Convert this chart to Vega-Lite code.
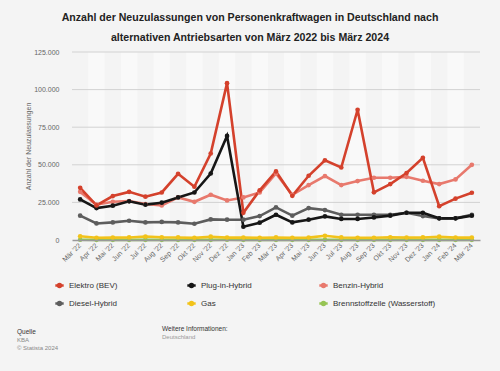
{
  "$schema": "https://vega.github.io/schema/vega-lite/v6.json",
  "width": 408,
  "height": 188,
  "autosize": {"type": "none"},
  "padding": {"left": 72, "top": 52, "right": 20, "bottom": 131},
  "background": "#f4f4f4",
  "config": {
    "font": "Liberation Sans",
    "view": {"stroke": null},
    "locale": {"number": {"decimal": ",", "thousands": ".", "grouping": [3], "currency": ["", " €"]}},
    "axisY": {"labelOverlap": false}
  },
  "title": {
    "text": ["Anzahl der Neuzulassungen von Personenkraftwagen in Deutschland nach", "alternativen Antriebsarten von März 2022 bis März 2024"],
    "fontSize": 10.6,
    "fontWeight": "bold",
    "color": "#222222",
    "lineHeight": 20,
    "anchor": "middle",
    "dx": -26,
    "offset": 4
  },
  "datasets": {
    "werte": [
      {"Monat": "Mär '22", "Elektro (BEV)": 34700, "Plug-in-Hybrid": 27000, "Benzin-Hybrid": 32000, "Diesel-Hybrid": 16200, "Gas": 2500, "Brennstoffzelle (Wasserstoff)": 150},
      {"Monat": "Apr '22", "Elektro (BEV)": 23000, "Plug-in-Hybrid": 21200, "Benzin-Hybrid": 23500, "Diesel-Hybrid": 11000, "Gas": 1500, "Brennstoffzelle (Wasserstoff)": 100},
      {"Monat": "Mai '22", "Elektro (BEV)": 29200, "Plug-in-Hybrid": 22800, "Benzin-Hybrid": 25400, "Diesel-Hybrid": 11700, "Gas": 1600, "Brennstoffzelle (Wasserstoff)": 100},
      {"Monat": "Jun '22", "Elektro (BEV)": 32000, "Plug-in-Hybrid": 25700, "Benzin-Hybrid": 25900, "Diesel-Hybrid": 12800, "Gas": 1700, "Brennstoffzelle (Wasserstoff)": 100},
      {"Monat": "Jul '22", "Elektro (BEV)": 28800, "Plug-in-Hybrid": 23500, "Benzin-Hybrid": 23900, "Diesel-Hybrid": 11700, "Gas": 2300, "Brennstoffzelle (Wasserstoff)": 100},
      {"Monat": "Aug '22", "Elektro (BEV)": 31600, "Plug-in-Hybrid": 24800, "Benzin-Hybrid": 23000, "Diesel-Hybrid": 12000, "Gas": 1800, "Brennstoffzelle (Wasserstoff)": 100},
      {"Monat": "Sep '22", "Elektro (BEV)": 44000, "Plug-in-Hybrid": 28300, "Benzin-Hybrid": 28300, "Diesel-Hybrid": 11700, "Gas": 1700, "Brennstoffzelle (Wasserstoff)": 100},
      {"Monat": "Okt '22", "Elektro (BEV)": 35400, "Plug-in-Hybrid": 31600, "Benzin-Hybrid": 25400, "Diesel-Hybrid": 10800, "Gas": 1400, "Brennstoffzelle (Wasserstoff)": 100},
      {"Monat": "Nov '22", "Elektro (BEV)": 57500, "Plug-in-Hybrid": 44200, "Benzin-Hybrid": 30100, "Diesel-Hybrid": 13700, "Gas": 2200, "Brennstoffzelle (Wasserstoff)": 100},
      {"Monat": "Dez '22", "Elektro (BEV)": 104300, "Plug-in-Hybrid": 69200, "Benzin-Hybrid": 26300, "Diesel-Hybrid": 13500, "Gas": 1600, "Brennstoffzelle (Wasserstoff)": 150},
      {"Monat": "Jan '23", "Elektro (BEV)": 18100, "Plug-in-Hybrid": 8800, "Benzin-Hybrid": 28300, "Diesel-Hybrid": 13500, "Gas": 1600, "Brennstoffzelle (Wasserstoff)": 100},
      {"Monat": "Feb '23", "Elektro (BEV)": 33000, "Plug-in-Hybrid": 11500, "Benzin-Hybrid": 31600, "Diesel-Hybrid": 15900, "Gas": 1500, "Brennstoffzelle (Wasserstoff)": 100},
      {"Monat": "Mär '23", "Elektro (BEV)": 45600, "Plug-in-Hybrid": 16800, "Benzin-Hybrid": 44200, "Diesel-Hybrid": 21700, "Gas": 1700, "Brennstoffzelle (Wasserstoff)": 100},
      {"Monat": "Apr '23", "Elektro (BEV)": 29400, "Plug-in-Hybrid": 11700, "Benzin-Hybrid": 30000, "Diesel-Hybrid": 16200, "Gas": 1500, "Brennstoffzelle (Wasserstoff)": 100},
      {"Monat": "Mai '23", "Elektro (BEV)": 42700, "Plug-in-Hybrid": 13500, "Benzin-Hybrid": 36500, "Diesel-Hybrid": 21200, "Gas": 1600, "Brennstoffzelle (Wasserstoff)": 100},
      {"Monat": "Jun '23", "Elektro (BEV)": 53000, "Plug-in-Hybrid": 15700, "Benzin-Hybrid": 42500, "Diesel-Hybrid": 19900, "Gas": 2800, "Brennstoffzelle (Wasserstoff)": 100},
      {"Monat": "Jul '23", "Elektro (BEV)": 48200, "Plug-in-Hybrid": 14000, "Benzin-Hybrid": 36500, "Diesel-Hybrid": 16800, "Gas": 1700, "Brennstoffzelle (Wasserstoff)": 100},
      {"Monat": "Aug '23", "Elektro (BEV)": 86600, "Plug-in-Hybrid": 14000, "Benzin-Hybrid": 39200, "Diesel-Hybrid": 16800, "Gas": 1500, "Brennstoffzelle (Wasserstoff)": 100},
      {"Monat": "Sep '23", "Elektro (BEV)": 31700, "Plug-in-Hybrid": 15000, "Benzin-Hybrid": 41400, "Diesel-Hybrid": 16800, "Gas": 1500, "Brennstoffzelle (Wasserstoff)": 100},
      {"Monat": "Okt '23", "Elektro (BEV)": 37200, "Plug-in-Hybrid": 16200, "Benzin-Hybrid": 41400, "Diesel-Hybrid": 16800, "Gas": 1800, "Brennstoffzelle (Wasserstoff)": 100},
      {"Monat": "Nov '23", "Elektro (BEV)": 44500, "Plug-in-Hybrid": 18100, "Benzin-Hybrid": 42000, "Diesel-Hybrid": 18100, "Gas": 1600, "Brennstoffzelle (Wasserstoff)": 100},
      {"Monat": "Dez '23", "Elektro (BEV)": 54700, "Plug-in-Hybrid": 18100, "Benzin-Hybrid": 39400, "Diesel-Hybrid": 15900, "Gas": 1700, "Brennstoffzelle (Wasserstoff)": 100},
      {"Monat": "Jan '24", "Elektro (BEV)": 22500, "Plug-in-Hybrid": 14400, "Benzin-Hybrid": 37200, "Diesel-Hybrid": 14400, "Gas": 2200, "Brennstoffzelle (Wasserstoff)": 100},
      {"Monat": "Feb '24", "Elektro (BEV)": 27500, "Plug-in-Hybrid": 14400, "Benzin-Hybrid": 40300, "Diesel-Hybrid": 14400, "Gas": 1600, "Brennstoffzelle (Wasserstoff)": 100},
      {"Monat": "Mär '24", "Elektro (BEV)": 31400, "Plug-in-Hybrid": 16200, "Benzin-Hybrid": 50000, "Diesel-Hybrid": 16800, "Gas": 1600, "Brennstoffzelle (Wasserstoff)": 100}
    ],
    "streifen": [
      {"Monat": "Apr '22"}, {"Monat": "Jun '22"}, {"Monat": "Aug '22"}, {"Monat": "Okt '22"}, {"Monat": "Dez '22"}, {"Monat": "Feb '23"},
      {"Monat": "Apr '23"}, {"Monat": "Jun '23"}, {"Monat": "Aug '23"}, {"Monat": "Okt '23"}, {"Monat": "Dez '23"}, {"Monat": "Feb '24"}
    ],
    "gitter": [{"Anzahl": 25000}, {"Anzahl": 50000}, {"Anzahl": 75000}, {"Anzahl": 100000}, {"Anzahl": 125000}]
  },
  "layer": [
    {
      "data": {"name": "streifen"},
      "mark": {"type": "rect", "color": "#f9f9f9"},
      "encoding": {
        "x": {"field": "Monat", "type": "ordinal", "sort": null,
          "scale": {"type": "band", "domain": ["Mär '22", "Apr '22", "Mai '22", "Jun '22", "Jul '22", "Aug '22", "Sep '22", "Okt '22", "Nov '22", "Dez '22", "Jan '23", "Feb '23", "Mär '23", "Apr '23", "Mai '23", "Jun '23", "Jul '23", "Aug '23", "Sep '23", "Okt '23", "Nov '23", "Dez '23", "Jan '24", "Feb '24", "Mär '24"], "paddingInner": 0, "paddingOuter": 0},
          "axis": {"title": null, "labelAngle": -45, "labelAlign": "right", "labelBaseline": "middle", "labelFontSize": 7, "labelColor": "#666666", "ticks": false, "domainColor": "#999999", "domainWidth": 1.5, "labelPadding": 4}}
      }
    },
    {
      "data": {"name": "gitter"},
      "mark": {"type": "rule", "color": "#d2d2d2", "strokeWidth": 1},
      "encoding": {
        "y": {"field": "Anzahl", "type": "quantitative", "scale": {"domain": [0, 125000], "nice": false},
          "axis": {"title": "Anzahl der Neuzulassungen", "titleFontSize": 7, "titleFontWeight": "normal", "titleColor": "#666666", "titlePadding": 2, "values": [0, 25000, 50000, 75000, 100000, 125000], "labelOverlap": false, "format": ",d", "labelFontSize": 7, "labelColor": "#666666", "ticks": false, "domain": false, "grid": false, "labelPadding": 13}}
      }
    },
    {
      "data": {"name": "werte"},
      "transform": [{"fold": ["Brennstoffzelle (Wasserstoff)", "Gas", "Diesel-Hybrid", "Benzin-Hybrid", "Plug-in-Hybrid", "Elektro (BEV)"], "as": ["Antrieb", "Anzahl"]}],
      "mark": {"type": "line", "strokeWidth": 2.6, "point": {"filled": true, "size": 22}},
      "encoding": {
        "x": {"field": "Monat", "type": "ordinal", "sort": null, "bandPosition": 0.5},
        "y": {"field": "Anzahl", "type": "quantitative", "scale": {"domain": [0, 125000], "nice": false},
          "axis": {"title": "Anzahl der Neuzulassungen", "titleFontSize": 7, "titleFontWeight": "normal", "titleColor": "#666666", "titlePadding": 2, "values": [0, 25000, 50000, 75000, 100000, 125000], "labelOverlap": false, "format": ",d", "labelFontSize": 7, "labelColor": "#666666", "ticks": false, "domain": false, "grid": false, "labelPadding": 13}},
        "color": {"field": "Antrieb", "type": "nominal",
          "scale": {"domain": ["Elektro (BEV)", "Plug-in-Hybrid", "Benzin-Hybrid", "Diesel-Hybrid", "Gas", "Brennstoffzelle (Wasserstoff)"], "range": ["#d4412c", "#161616", "#e8796d", "#5d5d5d", "#f2c31a", "#96c454"]},
          "legend": {"title": null, "orient": "none", "legendX": -18, "legendY": 228, "columns": 3, "direction": "horizontal", "gridAlign": "all", "columnPadding": 10, "rowPadding": 5, "labelFontSize": 8, "labelColor": "#333333", "symbolType": "M-1,0H1M-0.35,0A0.35,0.35,0,1,0,0.35,0A0.35,0.35,0,1,0,-0.35,0Z", "symbolSize": 70, "symbolStrokeWidth": 2.5, "labelOffset": 4}}
      }
    },
    {
      "data": {"values": [{}]},
      "mark": {"type": "text", "align": "left", "baseline": "middle", "fontSize": 6.5, "color": "#333333", "text": "Quelle"},
      "encoding": {"x": {"value": -55}, "y": {"value": 280}}
    },
    {
      "data": {"values": [{}]},
      "mark": {"type": "text", "align": "left", "baseline": "middle", "fontSize": 6, "color": "#888888", "text": "KBA"},
      "encoding": {"x": {"value": -55}, "y": {"value": 288}}
    },
    {
      "data": {"values": [{}]},
      "mark": {"type": "text", "align": "left", "baseline": "middle", "fontSize": 6, "color": "#888888", "text": "© Statista 2024"},
      "encoding": {"x": {"value": -55}, "y": {"value": 296}}
    },
    {
      "data": {"values": [{}]},
      "mark": {"type": "text", "align": "left", "baseline": "middle", "fontSize": 6.5, "color": "#333333", "text": "Weitere Informationen:"},
      "encoding": {"x": {"value": 90}, "y": {"value": 277}}
    },
    {
      "data": {"values": [{}]},
      "mark": {"type": "text", "align": "left", "baseline": "middle", "fontSize": 6, "color": "#999999", "text": "Deutschland"},
      "encoding": {"x": {"value": 90}, "y": {"value": 285}}
    }
  ]
}
